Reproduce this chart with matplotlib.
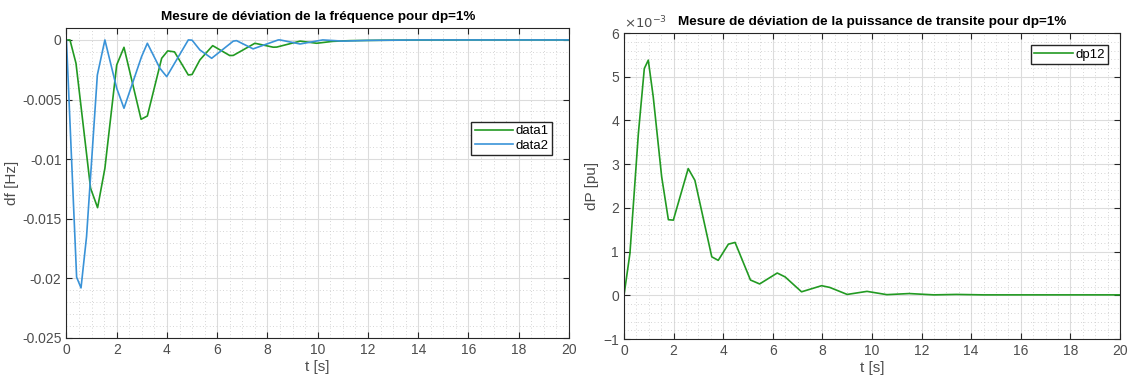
import numpy as np
import matplotlib.pyplot as plt
from matplotlib.ticker import MultipleLocator, AutoMinorLocator

# frequency deviation, area 1 (green) and area 2 (blue)
t_df1 = [0, 0.14, 0.38, 0.96, 1.24, 1.53, 2.0, 2.29, 2.97, 3.22, 3.79, 4.03, 4.3,
         4.85, 5.0, 5.31, 5.82, 6.5, 6.64, 7.5, 8.23, 8.37, 9.3, 9.96, 10.6, 11.3,
         12.5, 14.0, 16.0, 18.0, 20.0]
df1 = [0, 0, -0.00196, -0.01244, -0.01407, -0.01077, -0.0021, -0.00062, -0.00666,
       -0.00638, -0.00154, -0.00092, -0.001, -0.00294, -0.0029, -0.00168, -0.00048,
       -0.00131, -0.0013, -0.00028, -0.00061, -0.0006, -0.0001, -0.00028, -0.00012,
       -0.00006, -0.00003, -0.00001, 0, 0, 0]

t_df2 = [0, 0.405, 0.58, 0.8, 1.23, 1.53, 2.0, 2.29, 2.99, 3.22, 3.72, 3.99, 4.85,
         5.0, 5.31, 5.78, 6.64, 6.77, 7.43, 8.43, 8.5, 9.3, 10.2, 11.0, 12.0, 14.0,
         16.0, 18.0, 20.0]
df2 = [0, -0.0199, -0.0208, -0.0165, -0.00294, 0, -0.00405, -0.00573, -0.0014,
       -0.00028, -0.00238, -0.00308, 0, -0.00002, -0.00084, -0.00154, -0.0001,
       -0.00006, -0.00075, 0, 0, -0.00034, 0, -0.0001, -0.00004, 0, 0, 0, 0]

# tie-line power deviation (x 1e-3 pu)
t_dp = [0, 0.24, 0.58, 0.82, 0.98, 1.18, 1.52, 1.79, 1.99, 2.59, 2.86, 3.54, 3.80,
        4.21, 4.48, 5.1, 5.47, 6.18, 6.5, 7.16, 7.97, 8.3, 9.0, 9.8, 10.6, 11.5,
        12.5, 13.4, 14.5, 16.0, 18.0, 20.0]
dp12 = [0, 0.96, 3.7, 5.19, 5.38, 4.54, 2.71, 1.73, 1.72, 2.90, 2.63, 0.88, 0.80,
        1.17, 1.21, 0.35, 0.26, 0.51, 0.42, 0.08, 0.22, 0.18, 0.02, 0.09, 0.015,
        0.04, 0.01, 0.02, 0.01, 0.01, 0.01, 0.01]

green = "#229a22"
blue = "#3a93d8"
txt = "#4d4d4d"

plt.rcParams["font.family"] = ["Liberation Sans", "DejaVu Sans"]
plt.rcParams["font.size"] = 10

fig = plt.figure(figsize=(11.3, 3.81), dpi=100)
ax1 = fig.add_axes([0.0588, 0.1129, 0.4447, 0.8136])
ax2 = fig.add_axes([0.5522, 0.1102, 0.4389, 0.803])


def matlab_style(ax):
    ax.set_xlim(0, 20)
    ax.xaxis.set_major_locator(MultipleLocator(2))
    ax.xaxis.set_minor_locator(AutoMinorLocator(4))
    ax.yaxis.set_minor_locator(AutoMinorLocator(5))
    ax.grid(True, which="major", color="#dcdcdc", linewidth=0.8)
    ax.grid(True, which="minor", color="#c8c8c8", linestyle=(0, (1, 3)), linewidth=0.6)
    ax.set_axisbelow(True)
    ax.tick_params(which="both", direction="in", top=True, right=True,
                   colors="#262626", labelcolor=txt, labelsize=10)
    ax.tick_params(which="minor", length=0)
    ax.tick_params(which="major", length=4)
    for s in ax.spines.values():
        s.set_color("#262626")
        s.set_linewidth(0.8)
    ax.set_xlabel("t [s]", color=txt, fontsize=11, labelpad=2)


ax1.plot(t_df1, df1, color=green, linewidth=1.2, label="data1")
ax1.plot(t_df2, df2, color=blue, linewidth=1.2, label="data2")
matlab_style(ax1)
ax1.set_ylim(-0.025, 0.001)
ax1.set_yticks([-0.025, -0.02, -0.015, -0.01, -0.005, 0])
ax1.set_yticklabels(["-0.025", "-0.02", "-0.015", "-0.01", "-0.005", "0"])
ax1.set_ylabel("df [Hz]", color=txt, fontsize=11, labelpad=2)
ax1.set_title("Mesure de déviation de la fréquence pour dp=1%",
              fontweight="bold", fontsize=9.7, pad=6)
ax1.legend(loc="upper right", bbox_to_anchor=(0.966, 0.697), fancybox=False,
           edgecolor="#262626", framealpha=1, handlelength=2.9, fontsize=9.5,
           borderpad=0.25, labelspacing=0.15, handletextpad=0.2, borderaxespad=0)

ax2.plot(t_dp, dp12, color=green, linewidth=1.2, label="dp12")
matlab_style(ax2)
ax2.set_ylim(-1, 6)
ax2.yaxis.set_major_locator(MultipleLocator(1))
ax2.set_ylabel("dP [pu]", color=txt, fontsize=11, labelpad=3)
ax2.set_title("Mesure de déviation de la puissance de transite pour dp=1%",
              fontweight="bold", fontsize=9.7, pad=6)
ax2.text(0.0, 1.006, r"$\times10^{-3}$", transform=ax2.transAxes, color=txt,
         fontsize=9.5, ha="left", va="bottom")
ax2.legend(loc="upper right", bbox_to_anchor=(0.976, 0.961), fancybox=False,
           edgecolor="#262626", framealpha=1, handlelength=2.9, fontsize=9.5,
           borderpad=0.25, handletextpad=0.2, borderaxespad=0)

fig.savefig("out.png")
